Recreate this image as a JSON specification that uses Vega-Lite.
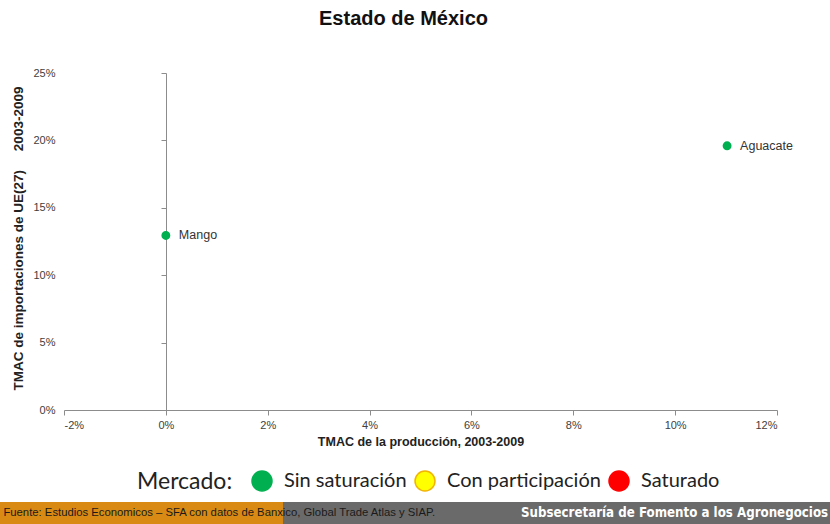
{
  "$schema": "https://vega.github.io/schema/vega-lite/v6.json",
  "width": 713,
  "height": 337,
  "autosize": {"type": "none"},
  "padding": {"left": 64, "top": 73, "right": 53, "bottom": 114},
  "background": "white",
  "title": {
    "text": "Estado de México",
    "font": "Liberation Sans",
    "fontSize": 20,
    "fontWeight": "bold",
    "color": "#111111",
    "anchor": "middle",
    "dx": -17,
    "offset": 38
  },
  "config": {
    "view": {"stroke": null},
    "font": "Liberation Sans"
  },
  "data": {
    "values": [
      {"producto": "Mango", "x": 0, "y": 12.95, "mercado": "Sin saturación"},
      {"producto": "Aguacate", "x": 11.02, "y": 19.6, "mercado": "Sin saturación"}
    ]
  },
  "layer": [
    {
      "mark": {"type": "circle", "size": 55, "opacity": 1, "strokeWidth": 1.5},
      "encoding": {
        "x": {
          "field": "x",
          "type": "quantitative",
          "scale": {"domain": [-2, 12], "nice": false, "zero": false},
          "axis": {
            "values": [-2, 0, 2, 4, 6, 8, 10, 12],
            "labelExpr": "datum.value + '%'",
            "grid": false,
            "domainColor": "#8c8c8c",
            "tickColor": "#8c8c8c",
            "tickSize": 5,
            "labelPadding": 4,
            "labelFont": "Liberation Sans",
            "labelFontSize": 11,
            "labelColor": "#404040",
            "title": "TMAC de la producción, 2003-2009",
            "titleFont": "Liberation Sans",
            "titleFontSize": 12.5,
            "titleFontWeight": "bold",
            "titleColor": "#222222",
            "titlePadding": 5
          }
        },
        "y": {
          "field": "y",
          "type": "quantitative",
          "scale": {"domain": [0, 25], "nice": false, "zero": false},
          "axis": {
            "values": [0, 5, 10, 15, 20, 25],
            "labelExpr": "datum.value + '%'",
            "grid": false,
            "offset": -102,
            "domainColor": "#8c8c8c",
            "tickColor": "#8c8c8c",
            "tickSize": 5,
            "labelPadding": 106,
            "labelFont": "Liberation Sans",
            "labelFontSize": 11,
            "labelColor": "#404040",
            "title": "TMAC de importaciones de UE(27)\u00a0\u00a0\u00a0\u00a0\u00a02003-2009",
            "titleFont": "Liberation Sans",
            "titleFontSize": 13.5,
            "titleFontWeight": "bold",
            "titleColor": "#222222",
            "titlePadding": 7,
            "titleY": 165
          }
        },
        "color": {
          "field": "mercado",
          "type": "nominal",
          "scale": {
            "domain": ["Sin saturación", "Con participación", "Saturado"],
            "range": ["#00B050", "#FFFF00", "#FF0000"]
          },
          "legend": {
            "title": "Mercado:",
            "orient": "none",
            "legendX": 73,
            "legendY": 397,
            "direction": "horizontal",
            "titleOrient": "left",
            "titleFont": "Lato",
            "titleFontSize": 23,
            "titleFontWeight": "normal",
            "titleColor": "#222222",
            "titlePadding": 18,
            "labelFont": "Lato",
            "labelFontSize": 20,
            "labelColor": "#222222",
            "labelOffset": 11,
            "symbolType": "circle",
            "symbolSize": 400,
            "symbolStrokeWidth": 1.5,
            "symbolOpacity": 1,
            "columnPadding": 5
          }
        },
        "stroke": {
          "field": "mercado",
          "type": "nominal",
          "scale": {
            "domain": ["Sin saturación", "Con participación", "Saturado"],
            "range": ["#00B050", "#F2B400", "#FF0000"]
          },
          "legend": {
            "title": "Mercado:",
            "orient": "none",
            "legendX": 73,
            "legendY": 397,
            "direction": "horizontal",
            "titleOrient": "left",
            "titleFont": "Lato",
            "titleFontSize": 23,
            "titleFontWeight": "normal",
            "titleColor": "#222222",
            "titlePadding": 18,
            "labelFont": "Lato",
            "labelFontSize": 20,
            "labelColor": "#222222",
            "labelOffset": 11,
            "symbolType": "circle",
            "symbolSize": 400,
            "symbolStrokeWidth": 1.5,
            "symbolOpacity": 1,
            "columnPadding": 5
          }
        }
      }
    },
    {
      "mark": {"type": "text", "align": "left", "baseline": "middle", "dx": 13, "font": "Liberation Sans", "fontSize": 12.5, "color": "#333333"},
      "encoding": {
        "x": {"field": "x", "type": "quantitative"},
        "y": {"field": "y", "type": "quantitative"},
        "text": {"field": "producto"}
      }
    },
    {
      "data": {"values": [{"parte": "izquierda"}]},
      "mark": {"type": "rect", "fill": "#D98A14", "clip": false},
      "encoding": {
        "x": {"datum": -3.4, "type": "quantitative"},
        "x2": {"datum": 2.3},
        "y": {"datum": -6.83, "type": "quantitative"},
        "y2": {"datum": -8.8}
      }
    },
    {
      "data": {"values": [{"parte": "derecha"}]},
      "mark": {"type": "rect", "fill": "#6a6a6a", "clip": false},
      "encoding": {
        "x": {"datum": 2.3, "type": "quantitative"},
        "x2": {"datum": 13.2},
        "y": {"datum": -6.83, "type": "quantitative"},
        "y2": {"datum": -8.8}
      }
    },
    {
      "data": {"values": [{"parte": "fuente"}]},
      "mark": {"type": "text", "align": "left", "baseline": "middle", "font": "Liberation Sans", "fontSize": 11.3, "fill": "#1a1a1a", "clip": false},
      "encoding": {
        "x": {"datum": -3.19, "type": "quantitative"},
        "y": {"datum": -7.64, "type": "quantitative"},
        "text": {"value": "Fuente: Estudios Economicos – SFA con datos de Banxico, Global Trade Atlas y SIAP."}
      }
    },
    {
      "data": {"values": [{"parte": "sub"}]},
      "mark": {"type": "text", "align": "left", "baseline": "middle", "font": "DejaVu Sans Condensed", "fontWeight": "bold", "fontSize": 13.2, "fill": "#ffffff", "clip": false},
      "encoding": {
        "x": {"datum": 6.973, "type": "quantitative"},
        "y": {"datum": -7.64, "type": "quantitative"},
        "text": {"value": "Subsecretaría de Fomento a los Agronegocios"}
      }
    }
  ]
}
